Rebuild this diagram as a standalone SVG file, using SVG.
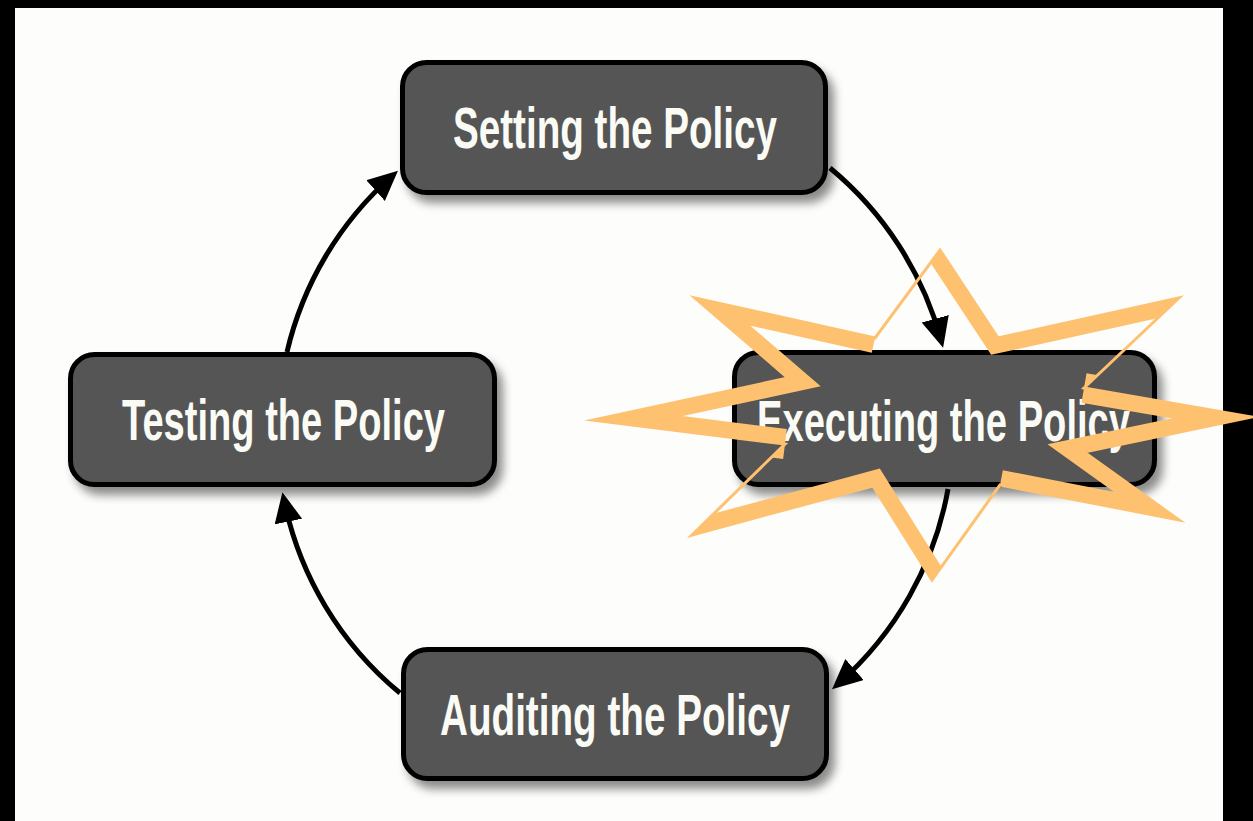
<svg xmlns="http://www.w3.org/2000/svg" width="1253" height="821" viewBox="0 0 1253 821">
<style>
.box{fill:#555555;stroke:#000;stroke-width:5;filter:url(#sh)}
.lbl{font-family:"Liberation Sans",Arial,sans-serif;font-weight:bold;font-size:57px;fill:#fbfbf6}
.conn{fill:none;stroke:#000;stroke-width:5;marker-end:url(#ah)}
.starThin{fill:none;stroke:#fec170;stroke-width:3;stroke-linejoin:miter;stroke-miterlimit:20}
.starThick{fill:none;stroke:#fec170;stroke-width:30;stroke-linejoin:miter;stroke-miterlimit:20}
</style>
<defs>
<filter id="sh" x="-10%" y="-20%" width="130%" height="150%">
<feDropShadow dx="6" dy="8" stdDeviation="5" flood-color="#000" flood-opacity="0.45"/>
</filter>
<marker id="ah" markerUnits="userSpaceOnUse" markerWidth="32" markerHeight="30" refX="22" refY="14" orient="auto">
<path d="M0,0 L30,14 L0,28 Z" fill="#000"/>
</marker>
<clipPath id="starClip">
<polygon id="starShape" points="940,250 998,338 1179,298 1084,388 1252,417 1084,452 1179,520 1000,485 932,580 873,486 692,535 785,444 593,420 788,378 695,298 875,338"/>
</clipPath>
</defs>
<rect x="0" y="0" width="1253" height="821" fill="#000"/>
<rect x="15" y="8" width="1208" height="813" fill="#fdfdfb"/>
<g id="connectors">
<path class="conn" d="M830,168 A338,338 0 0 1 941,340"/>
<path class="conn" d="M948,489 A338,338 0 0 1 838,684"/>
<path class="conn" d="M400,693 A338,338 0 0 1 284,500"/>
<path class="conn" d="M287,352 A338,338 0 0 1 392,176"/>
</g>
<g id="setting">
<rect class="box" x="402.5" y="62.5" width="423" height="130" rx="24"/>
<text class="lbl" x="453" y="148" textLength="324" lengthAdjust="spacingAndGlyphs">Setting the Policy</text>
</g>
<g id="testing">
<rect class="box" x="70.5" y="354.5" width="424" height="130" rx="24"/>
<text class="lbl" x="122" y="440" textLength="323" lengthAdjust="spacingAndGlyphs">Testing the Policy</text>
</g>
<g id="executing">
<rect class="box" x="734.5" y="352.5" width="420" height="132" rx="24"/>
<text class="lbl" x="757" y="441" textLength="373" lengthAdjust="spacingAndGlyphs">Executing the Policy</text>
</g>
<g id="auditing">
<rect class="box" x="403.5" y="649.5" width="423" height="129" rx="24"/>
<text class="lbl" x="440" y="735" textLength="350" lengthAdjust="spacingAndGlyphs">Auditing the Policy</text>
</g>
<g id="starburst">
<g clip-path="url(#starClip)">
<polyline class="starThick" points="940,250 998,338 1179,298"/>
<polyline class="starThick" points="1084,388 1252,417 1084,452 1179,520 1000,485"/>
<polyline class="starThick" points="932,580 873,486 692,535"/>
<polyline class="starThick" points="785,444 593,420 788,378 695,298 875,338"/>
</g>
<polygon class="starThin" points="940,250 998,338 1179,298 1084,388 1252,417 1084,452 1179,520 1000,485 932,580 873,486 692,535 785,444 593,420 788,378 695,298 875,338"/>
</g>
</svg>
